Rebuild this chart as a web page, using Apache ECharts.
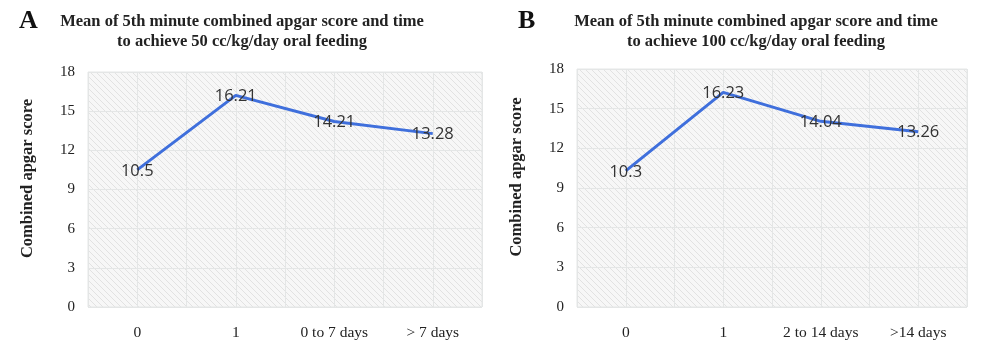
<!DOCTYPE html>
<html>
<head>
<meta charset="utf-8">
<script src="https://cdn.jsdelivr.net/npm/echarts@6/dist/echarts.min.js"></script>
<style>
  html, body { margin: 0; padding: 0; background: #fff; }
  #chart { width: 1000px; height: 351px; }
</style>
</head>
<body>
<div id="chart"></div>
<script>
// data
const catsA = ['0', '1', '0 to 7 days', '> 7 days'];
const valsA = [10.5, 16.21, 14.21, 13.28];
const catsB = ['0', '1', '2 to 14 days', '>14 days'];
const valsB = [10.3, 16.23, 14.04, 13.26];
const titleA = 'Mean of 5th minute combined apgar score and time\nto achieve 50 cc/kg/day oral feeding';
const titleB = 'Mean of 5th minute combined apgar score and time\nto achieve 100 cc/kg/day oral feeding';

// diagonal hatch for plot background
const hatch = document.createElement('canvas');
hatch.width = 6; hatch.height = 6;
const ctx = hatch.getContext('2d');
ctx.fillStyle = '#f7f7f7';
ctx.fillRect(0, 0, 6, 6);
ctx.strokeStyle = '#e2e2e2';
ctx.lineWidth = 1;
ctx.beginPath();
ctx.moveTo(-1, -1); ctx.lineTo(7, 7);
ctx.moveTo(-4, 2); ctx.lineTo(4, 10);
ctx.moveTo(2, -4); ctx.lineTo(10, 4);
ctx.stroke();

const serif = 'Liberation Serif';
const gridLine = { show: true, lineStyle: { color: '#e4e6e6', width: 1 } };

const myChart = echarts.init(document.getElementById('chart'));

function yAxis(i) {
  return {
    type: 'value', gridIndex: i, min: 0, max: 18, interval: 3,
    axisLine: { show: false }, axisTick: { show: false },
    axisLabel: { color: '#222', fontFamily: serif, fontSize: 15, margin: 13 },
    splitLine: gridLine,
    name: 'Combined apgar score', nameLocation: 'middle', nameRotate: 90, nameGap: 52,
    nameTextStyle: { fontFamily: serif, fontWeight: 'bold', fontSize: 16.5, color: '#222', padding: [0, 0, 0, 22] }
  };
}
function catAxis(i, cats) {
  return {
    type: 'category', gridIndex: i, data: cats, boundaryGap: true,
    axisLine: { show: false }, axisTick: { show: false }, splitLine: { show: false },
    axisLabel: { interval: 0, color: '#222', fontFamily: serif, fontSize: 15.5, margin: 18 }
  };
}
function halfAxis(i) {
  return {
    type: 'value', gridIndex: i, min: 0, max: 8, interval: 1,
    axisLine: { show: false }, axisTick: { show: false }, axisLabel: { show: false },
    splitLine: gridLine
  };
}
function lineSeries(i, vals) {
  return {
    type: 'line', xAxisIndex: i, yAxisIndex: i, data: vals,
    symbol: 'circle', symbolSize: 1, itemStyle: { color: 'rgba(0,0,0,0)' },
    lineStyle: { color: '#3f6fdc', width: 3 },
    label: {
      show: true, position: 'top', distance: 0, offset: [0, 10], color: '#333',
      fontFamily: 'Open Sans', fontSize: 16.5
    }
  };
}

const option = {
  animation: false,
  title: [
    { text: 'A', left: 14, top: 3, textStyle: { fontFamily: serif, fontWeight: 'bold', fontSize: 26, color: '#111' } },
    { text: 'B', left: 513, top: 3, textStyle: { fontFamily: serif, fontWeight: 'bold', fontSize: 26, color: '#111' } },
    { text: titleA, left: 237, top: 7, textAlign: 'center',
      textStyle: { fontFamily: serif, fontWeight: 'bold', fontSize: 16.5, lineHeight: 20, color: '#222', align: 'center' } },
    { text: titleB, left: 751, top: 7, textAlign: 'center',
      textStyle: { fontFamily: serif, fontWeight: 'bold', fontSize: 16.5, lineHeight: 20, color: '#222', align: 'center' } }
  ],
  grid: [
    { left: 88, top: 72, width: 394, height: 235, show: true,
      backgroundColor: { image: hatch, repeat: 'repeat' }, borderColor: '#e4e6e6', borderWidth: 1 },
    { left: 577, top: 69, width: 390, height: 238, show: true,
      backgroundColor: { image: hatch, repeat: 'repeat' }, borderColor: '#e4e6e6', borderWidth: 1 }
  ],
  xAxis: [catAxis(0, catsA), catAxis(1, catsB), halfAxis(0), halfAxis(1)],
  yAxis: [yAxis(0), yAxis(1)],
  series: [lineSeries(0, valsA), lineSeries(1, valsB)]
};

myChart.setOption(option);
</script>
</body>
</html>
